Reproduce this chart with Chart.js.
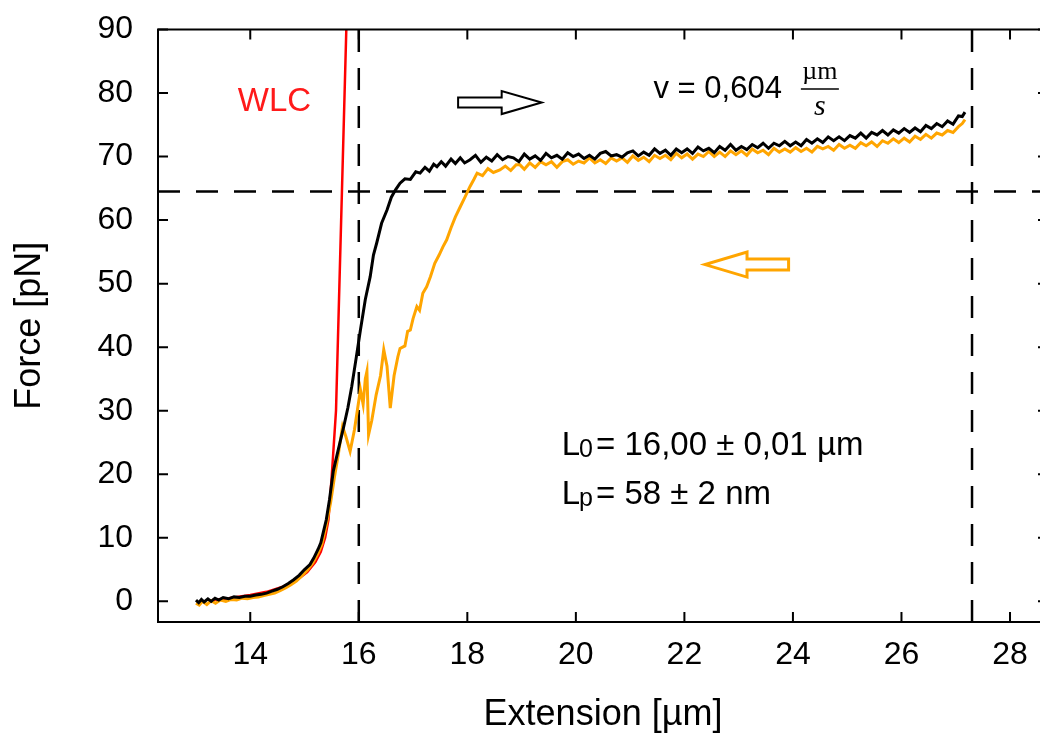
<!DOCTYPE html>
<html>
<head>
<meta charset="utf-8">
<title>Force-extension curve</title>
<script src="https://cdn.jsdelivr.net/npm/chart.js@4.4.0/dist/chart.umd.min.js"></script>
<style>
  html, body { margin: 0; padding: 0; background: #fff; overflow: hidden; }
  #wrap { width: 1060px; height: 737px; }
</style>
</head>
<body>
<div id="wrap"><canvas id="fd-chart" width="1060" height="737"></canvas></div>
<script>
// stretching trace (extension [um], force [pN])
const stretchCurve = [
  [13.00, 0.2], [13.05, -0.2], [13.10, 0.3], [13.15, -0.1], [13.22, 0.4], [13.28, 0.0],
  [13.35, 0.5], [13.42, 0.2], [13.50, 0.6], [13.60, 0.4], [13.70, 0.7], [13.80, 0.6],
  [13.90, 0.8], [14.00, 0.8], [14.10, 1.0], [14.20, 1.1], [14.30, 1.3], [14.40, 1.6],
  [14.50, 1.9], [14.60, 2.3], [14.70, 2.8], [14.80, 3.4], [14.90, 4.1], [15.00, 5.0],
  [15.10, 5.8], [15.17, 6.8], [15.25, 8.2], [15.30, 9.2], [15.35, 11.0], [15.40, 12.8],
  [15.46, 16.0], [15.53, 20.5], [15.62, 23.8], [15.72, 27.4], [15.80, 30.5], [15.87, 33.8],
  [15.95, 38.2], [16.03, 42.7], [16.12, 47.5], [16.21, 51.1], [16.27, 54.5], [16.33, 56.4],
  [16.42, 59.5], [16.52, 61.6], [16.60, 63.6], [16.68, 64.8], [16.76, 65.8], [16.85, 66.5],
  [16.95, 66.4], [17.05, 67.6], [17.13, 67.4], [17.22, 68.3], [17.30, 67.7], [17.38, 68.8],
  [17.44, 68.4], [17.52, 69.2], [17.60, 68.5], [17.70, 69.6], [17.78, 68.9], [17.87, 69.8],
  [17.95, 69.0], [18.05, 69.5], [18.15, 70.2], [18.25, 69.1], [18.35, 69.9], [18.45, 69.3],
  [18.55, 70.3], [18.65, 69.5], [18.75, 70.0], [18.85, 69.8], [18.95, 69.2], [19.05, 70.4],
  [19.15, 69.6], [19.25, 70.1], [19.35, 69.4], [19.45, 70.5], [19.55, 69.8], [19.65, 70.2],
  [19.75, 69.6], [19.85, 70.6], [19.95, 70.0], [20.05, 70.4], [20.15, 69.7], [20.25, 70.2],
  [20.35, 69.6], [20.45, 70.5], [20.55, 70.8], [20.65, 70.1], [20.75, 70.3], [20.85, 69.9],
  [20.95, 70.6], [21.05, 70.9], [21.15, 70.1], [21.25, 70.7], [21.35, 70.2], [21.45, 71.2],
  [21.55, 70.5], [21.65, 71.0], [21.75, 70.2], [21.85, 71.2], [21.95, 70.6], [22.05, 71.2],
  [22.15, 70.5], [22.25, 71.5], [22.35, 70.9], [22.45, 71.3], [22.55, 70.6], [22.65, 71.6],
  [22.75, 71.0], [22.85, 71.9], [22.95, 71.0], [23.05, 71.6], [23.15, 71.1], [23.25, 71.9],
  [23.35, 71.4], [23.45, 72.1], [23.55, 71.3], [23.65, 72.1], [23.75, 71.7], [23.85, 72.4],
  [23.95, 71.7], [24.05, 72.3], [24.15, 71.7], [24.25, 72.7], [24.35, 72.1], [24.45, 72.8],
  [24.55, 72.2], [24.65, 73.1], [24.75, 72.5], [24.85, 73.1], [24.95, 72.5], [25.05, 73.3],
  [25.15, 72.9], [25.25, 73.7], [25.35, 72.9], [25.45, 73.8], [25.55, 73.4], [25.65, 74.1],
  [25.75, 73.4], [25.85, 74.2], [25.95, 73.7], [26.05, 74.4], [26.15, 73.8], [26.25, 74.5],
  [26.35, 73.9], [26.45, 74.9], [26.55, 74.4], [26.65, 75.2], [26.75, 74.7], [26.85, 75.6],
  [26.95, 75.1], [27.05, 76.4], [27.12, 76.3], [27.17, 77.0]
];

// relaxation trace
const relaxCurve = [
  [13.00, -0.3], [13.06, -0.6], [13.12, 0.0], [13.20, -0.5], [13.28, 0.1], [13.36, -0.3],
  [13.45, 0.2], [13.55, 0.0], [13.65, 0.3], [13.75, 0.2], [13.85, 0.5], [13.95, 0.4],
  [14.05, 0.6], [14.15, 0.7], [14.25, 0.9], [14.35, 1.1], [14.45, 1.3], [14.55, 1.7],
  [14.65, 2.1], [14.75, 2.6], [14.85, 3.2], [14.95, 4.0], [15.05, 4.9], [15.15, 6.0],
  [15.25, 7.6], [15.32, 9.0], [15.40, 12.0], [15.48, 15.5], [15.55, 19.5], [15.62, 23.0],
  [15.70, 27.5], [15.76, 26.0], [15.84, 23.6], [15.92, 27.0], [16.03, 33.3], [16.08, 31.0],
  [16.12, 35.0], [16.15, 36.2], [16.18, 26.2], [16.24, 28.5], [16.32, 32.5], [16.40, 35.5],
  [16.46, 39.6], [16.52, 37.0], [16.58, 30.4], [16.65, 35.5], [16.72, 38.5], [16.76, 39.8],
  [16.85, 40.2], [16.90, 42.5], [16.95, 42.7], [17.00, 44.5], [17.07, 46.4], [17.12, 45.8],
  [17.18, 48.5], [17.25, 49.5], [17.32, 51.1], [17.40, 53.2], [17.48, 54.5], [17.55, 55.8],
  [17.62, 56.9], [17.70, 58.8], [17.78, 60.5], [17.87, 62.1], [17.95, 63.5], [18.05, 65.3],
  [18.12, 66.4], [18.18, 67.4], [18.28, 67.0], [18.38, 68.1], [18.48, 67.5], [18.60, 67.9],
  [18.70, 68.5], [18.80, 67.8], [18.90, 68.7], [18.97, 68.7], [19.05, 68.0], [19.15, 69.0],
  [19.25, 68.3], [19.35, 69.2], [19.45, 68.7], [19.55, 69.2], [19.65, 68.3], [19.75, 69.2],
  [19.85, 69.5], [19.95, 68.8], [20.05, 69.3], [20.15, 69.0], [20.25, 69.8], [20.35, 69.0],
  [20.45, 69.5], [20.55, 68.9], [20.65, 69.8], [20.75, 69.3], [20.85, 69.8], [20.95, 69.1],
  [21.05, 70.1], [21.15, 69.4], [21.25, 69.9], [21.35, 69.2], [21.45, 70.2], [21.55, 69.7],
  [21.65, 70.2], [21.75, 69.5], [21.85, 70.5], [21.95, 69.8], [22.05, 70.4], [22.15, 69.6],
  [22.25, 70.4], [22.35, 70.0], [22.45, 70.8], [22.55, 70.0], [22.65, 70.7], [22.75, 70.0],
  [22.85, 70.9], [22.95, 70.3], [23.05, 70.9], [23.15, 70.2], [23.25, 71.2], [23.35, 70.6],
  [23.45, 71.0], [23.55, 70.3], [23.65, 71.3], [23.75, 70.7], [23.85, 71.2], [23.95, 70.7],
  [24.05, 71.4], [24.15, 70.8], [24.25, 71.3], [24.35, 70.7], [24.45, 71.6], [24.55, 71.2],
  [24.65, 71.6], [24.75, 71.0], [24.85, 71.9], [24.95, 71.3], [25.05, 71.8], [25.15, 71.3],
  [25.25, 72.2], [25.35, 71.7], [25.45, 72.3], [25.55, 71.6], [25.65, 72.5], [25.75, 72.1],
  [25.85, 72.8], [25.95, 72.2], [26.05, 72.9], [26.15, 72.3], [26.25, 73.2], [26.35, 72.7],
  [26.45, 73.5], [26.55, 72.9], [26.65, 73.7], [26.75, 73.4], [26.85, 74.1], [26.95, 73.8],
  [27.05, 74.7], [27.12, 75.2], [27.17, 75.8]
];

// worm-like chain fit
const wlcFit = [
  [13.30, 0.2], [13.60, 0.5], [14.00, 1.0], [14.30, 1.5], [14.60, 2.3], [14.85, 3.3],
  [15.05, 4.6], [15.20, 6.2], [15.30, 7.8], [15.38, 10.0], [15.44, 12.8], [15.50, 19.5],
  [15.58, 30.0], [15.77, 90.0], [15.80, 97.0]
];

const xTicks = [14, 16, 18, 20, 22, 24, 26, 28];
const yTicks = [0, 10, 20, 30, 40, 50, 60, 70, 80, 90];

const contourLength = 16.0;   // L0
const endExtension = 27.3;
const plateauForce = 64.5;

const X_MIN = 12.3, X_MAX = 28.7, Y_MIN = -3.25, Y_MAX = 90;

const SANS = '"Liberation Sans", Arial, sans-serif';
const SERIF = '"Liberation Serif", "Times New Roman", serif';
const tickFont = { family: SANS, size: 32 };
const titleFont = { family: SANS, size: 36 };

const toPoints = arr => arr.map(([x, y]) => ({ x, y }));

function dashed(points) {
  return {
    data: points,
    borderColor: '#000',
    borderWidth: 2.5,
    borderDash: [22, 16],
    pointRadius: 0,
    fill: false
  };
}

function drawArrow(ctx, tailX, tipX, cy, bodyHalf, headHalf, headLen, color, lw) {
  const dir = Math.sign(tipX - tailX);
  const baseX = tipX - dir * headLen;
  ctx.beginPath();
  ctx.moveTo(tailX, cy - bodyHalf);
  ctx.lineTo(baseX, cy - bodyHalf);
  ctx.lineTo(baseX, cy - headHalf);
  ctx.lineTo(tipX, cy);
  ctx.lineTo(baseX, cy + headHalf);
  ctx.lineTo(baseX, cy + bodyHalf);
  ctx.lineTo(tailX, cy + bodyHalf);
  ctx.closePath();
  ctx.fillStyle = '#fff';
  ctx.fill();
  ctx.strokeStyle = color;
  ctx.lineWidth = lw;
  ctx.lineJoin = 'miter';
  ctx.stroke();
}

// frame with inward ticks on all four sides, plus the annotations
const frameAndNotes = {
  id: 'frameAndNotes',
  afterDatasetsDraw(chart) {
    const { ctx, chartArea: a, scales: { x, y } } = chart;
    ctx.save();
    ctx.strokeStyle = '#000';
    ctx.lineWidth = 2;
    ctx.strokeRect(a.left, a.top, a.right - a.left, a.bottom - a.top);
    ctx.beginPath();
    xTicks.forEach(v => {
      const px = x.getPixelForValue(v);
      ctx.moveTo(px, a.bottom); ctx.lineTo(px, a.bottom - 10);
      ctx.moveTo(px, a.top); ctx.lineTo(px, a.top + 10);
    });
    yTicks.forEach(v => {
      const py = y.getPixelForValue(v);
      ctx.moveTo(a.left, py); ctx.lineTo(a.left + 10, py);
      ctx.moveTo(a.right, py); ctx.lineTo(a.right - 10, py);
    });
    ctx.stroke();

    // direction arrows
    drawArrow(ctx, x.getPixelForValue(17.83), x.getPixelForValue(19.37), y.getPixelForValue(78.5),
      5, 11.5, 40, '#000', 2);
    drawArrow(ctx, x.getPixelForValue(23.92), x.getPixelForValue(22.38), y.getPixelForValue(53.0),
      5.5, 12.5, 42, '#ffa500', 3);

    ctx.textBaseline = 'alphabetic';
    ctx.textAlign = 'left';

    // WLC label
    ctx.fillStyle = '#ff1a1a';
    ctx.font = `33px ${SANS}`;
    ctx.fillText('WLC', x.getPixelForValue(13.77), y.getPixelForValue(77.1));

    // pulling speed with fraction
    ctx.fillStyle = '#000';
    ctx.strokeStyle = '#000';
    ctx.font = `31px ${SANS}`;
    const vx = x.getPixelForValue(21.43), vy = y.getPixelForValue(79.2);
    ctx.fillText('v = 0,604', vx, vy);
    const fx = vx + ctx.measureText('v = 0,604').width + 38;
    ctx.textAlign = 'center';
    ctx.font = `26px ${SERIF}`;
    ctx.fillText('\u00b5m', fx, vy - 19);
    ctx.font = `italic 30px ${SERIF}`;
    ctx.fillText('s', fx, vy + 16.7);
    ctx.beginPath();
    ctx.lineWidth = 1.5;
    ctx.moveTo(fx - 19, vy - 9);
    ctx.lineTo(fx + 19, vy - 9);
    ctx.stroke();

    // fit results
    ctx.textAlign = 'left';
    const lines = [
      { sub: '0', rest: '= 16,00 \u00b1 0,01 \u00b5m', val: 23.0 },
      { sub: 'p', rest: '= 58 \u00b1 2 nm', val: 15.4 }
    ];
    const lx = x.getPixelForValue(19.74);
    lines.forEach(l => {
      const ly = y.getPixelForValue(l.val);
      ctx.font = `33px ${SANS}`;
      ctx.fillText('L', lx, ly);
      let cx = lx + ctx.measureText('L').width - 1;
      ctx.font = `25px ${SANS}`;
      ctx.fillText(l.sub, cx, ly + 2);
      cx += ctx.measureText(l.sub).width + 3;
      ctx.font = `33px ${SANS}`;
      ctx.fillText(l.rest, cx, ly);
    });
    ctx.restore();
  }
};

new Chart(document.getElementById('fd-chart'), {
  type: 'line',
  data: {
    datasets: [
      { data: toPoints(stretchCurve), borderColor: '#000', borderWidth: 3, pointRadius: 0 },
      { data: toPoints(relaxCurve), borderColor: '#ffa500', borderWidth: 3, pointRadius: 0 },
      { data: toPoints(wlcFit), borderColor: '#ff0000', borderWidth: 2.5, pointRadius: 0 },
      dashed([{ x: contourLength, y: Y_MIN }, { x: contourLength, y: Y_MAX }]),
      dashed([{ x: endExtension, y: Y_MIN }, { x: endExtension, y: Y_MAX }]),
      dashed([{ x: X_MIN, y: plateauForce }, { x: X_MAX, y: plateauForce }])
    ]
  },
  options: {
    responsive: false,
    animation: false,
    devicePixelRatio: 1,
    layout: { padding: { left: 0, top: 29.5, right: 12, bottom: 0 } },
    plugins: { legend: { display: false }, tooltip: { enabled: false } },
    elements: { line: { tension: 0 } },
    scales: {
      x: {
        type: 'linear',
        min: X_MIN,
        max: X_MAX,
        afterBuildTicks: s => { s.ticks = xTicks.map(v => ({ value: v })); },
        afterFit: s => { s.height = 115; s.paddingLeft = 0; s.paddingRight = 0; },
        grid: { display: false, drawTicks: false },
        border: { display: false },
        ticks: { font: tickFont, color: '#000', padding: 14, maxRotation: 0 },
        title: {
          display: true, text: 'Extension [\u00b5m]', font: titleFont, color: '#000',
          padding: { top: 0, bottom: 0 }
        }
      },
      y: {
        type: 'linear',
        min: Y_MIN,
        max: Y_MAX,
        afterBuildTicks: s => { s.ticks = yTicks.map(v => ({ value: v })); },
        afterFit: s => { s.width = 158; s.paddingTop = 0; s.paddingBottom = 0; },
        grid: { display: false, drawTicks: false },
        border: { display: false },
        ticks: { font: tickFont, color: '#000', padding: 25 },
        title: {
          display: true, text: 'Force [pN]', font: titleFont, color: '#000',
          padding: { top: 8, bottom: 0 }
        }
      }
    }
  },
  plugins: [frameAndNotes]
});
</script>
</body>
</html>
